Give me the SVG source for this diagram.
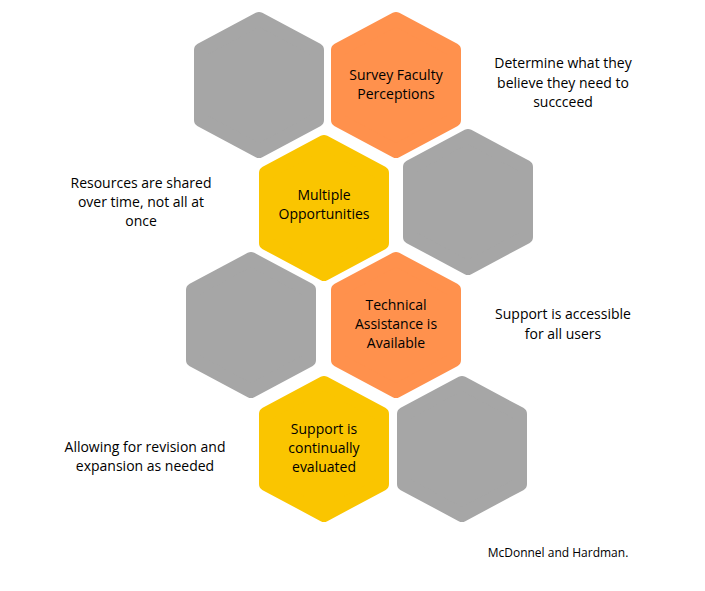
<svg xmlns="http://www.w3.org/2000/svg" width="705" height="591" viewBox="0 0 705 591">
<defs>
<style>
.h{stroke-width:14;stroke-linejoin:round}
.g{fill:#a6a6a6;stroke:#a6a6a6}
.o{fill:#ff914d;stroke:#ff914d}
.y{fill:#fac500;stroke:#fac500}
text{font-family:"Open Sans","Liberation Sans",sans-serif;font-size:14px;fill:#000;text-anchor:middle}
</style>
<polygon id="hx" points="0,-66 58,-35 58,35 0,66 -58,35 -58,-35"/>
</defs>
<rect width="705" height="591" fill="#fff"/>
<g id="hex1"><use href="#hx" class="h g" x="259" y="85"/></g>
<g id="survey"><use href="#hx" class="h o" x="396" y="85"/><text x="396" y="80">Survey Faculty</text><text x="396" y="99">Perceptions</text></g>
<g id="multiple"><use href="#hx" class="h y" x="324" y="208"/><text x="324" y="200">Multiple</text><text x="324" y="219">Opportunities</text></g>
<g id="hex2"><use href="#hx" class="h g" x="468" y="202"/></g>
<g id="hex3"><use href="#hx" class="h g" x="251" y="325"/></g>
<g id="technical"><use href="#hx" class="h o" x="396" y="325"/><text x="396" y="310">Technical</text><text x="396" y="329">Assistance is</text><text x="396" y="348">Available</text></g>
<g id="support"><use href="#hx" class="h y" x="324" y="449"/><text x="324" y="434">Support is</text><text x="324" y="453">continually</text><text x="324" y="472">evaluated</text></g>
<g id="hex4"><use href="#hx" class="h g" x="462" y="449"/></g>
<g id="notes">
<text x="563" y="68">Determine what they</text><text x="563" y="88">believe they need to</text><text x="563" y="107">succceed</text>
<text x="141" y="188">Resources are shared</text><text x="141" y="207">over time, not all at</text><text x="141" y="226">once</text>
<text x="563" y="319">Support is accessible</text><text x="563" y="339">for all users</text>
<text x="145" y="452">Allowing for revision and</text><text x="145" y="471">expansion as needed</text>
<text x="558" y="557" style="font-size:12px">McDonnel and Hardman.</text>
</g>
<g id="connectors"/>
</svg>
